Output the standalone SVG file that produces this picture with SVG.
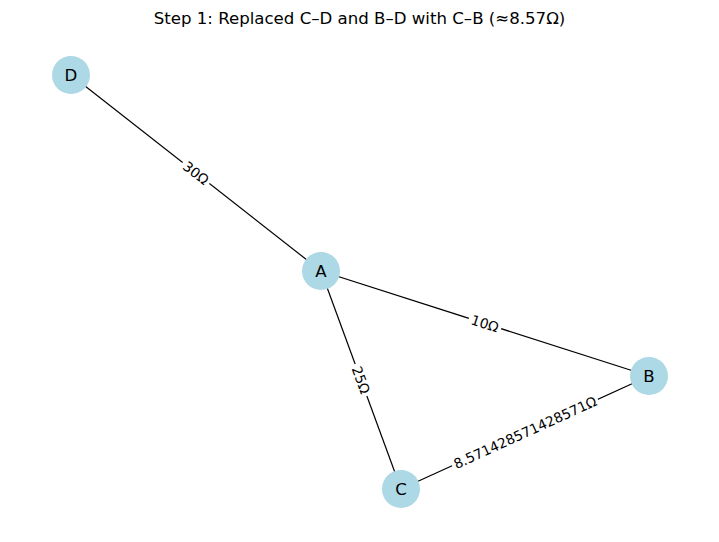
<svg xmlns="http://www.w3.org/2000/svg" width="719" height="542" viewBox="0 0 719 542">
<style>
.edge{stroke:#000;stroke-width:1.2;fill:none}
.node circle{fill:#add8e6}
.node text{font-family:"DejaVu Sans",sans-serif;font-size:16.6px;text-anchor:middle;dominant-baseline:central;fill:#000}
.lbl rect{fill:#fff}
.lbl text{font-family:"DejaVu Sans",sans-serif;font-size:13.8px;text-anchor:middle;dominant-baseline:central;fill:#000}
.title{font-family:"DejaVu Sans",sans-serif;font-size:16.6px;text-anchor:middle;fill:#000}
</style>
<rect width="719" height="542" fill="#fff"/>
<text class="title" x="359.5" y="24">Step 1: Replaced C–D and B–D with C–B (≈8.57Ω)</text>
<g id="connectors">
<line class="edge" x1="71" y1="75" x2="321" y2="271"/>
<line class="edge" x1="321" y1="271" x2="649" y2="376"/>
<line class="edge" x1="321" y1="271" x2="401" y2="489"/>
<line class="edge" x1="401" y1="489" x2="649" y2="376"/>
<g class="lbl" transform="translate(196,173) rotate(38.1)"><rect x="-17" y="-8" width="34" height="16"/><text x="0" y="0">30Ω</text></g>
<g class="lbl" transform="translate(485,323.5) rotate(17.75)"><rect x="-17" y="-8" width="34" height="16"/><text x="0" y="0">10Ω</text></g>
<g class="lbl" transform="translate(361,380) rotate(69.85)"><rect x="-17" y="-8" width="34" height="16"/><text x="0" y="0">25Ω</text></g>
<g class="lbl" transform="translate(525,432.5) rotate(-24.5)"><rect x="-80" y="-8" width="160" height="16"/><text x="0" y="0">8.571428571428571Ω</text></g>
</g>
<g id="node-D" class="node"><circle cx="71" cy="75" r="19"/><text x="71" y="75">D</text></g>
<g id="node-A" class="node"><circle cx="321" cy="271" r="19"/><text x="321" y="271">A</text></g>
<g id="node-B" class="node"><circle cx="649" cy="376" r="19"/><text x="649" y="376">B</text></g>
<g id="node-C" class="node"><circle cx="401" cy="489" r="19"/><text x="401" y="489">C</text></g>
</svg>
